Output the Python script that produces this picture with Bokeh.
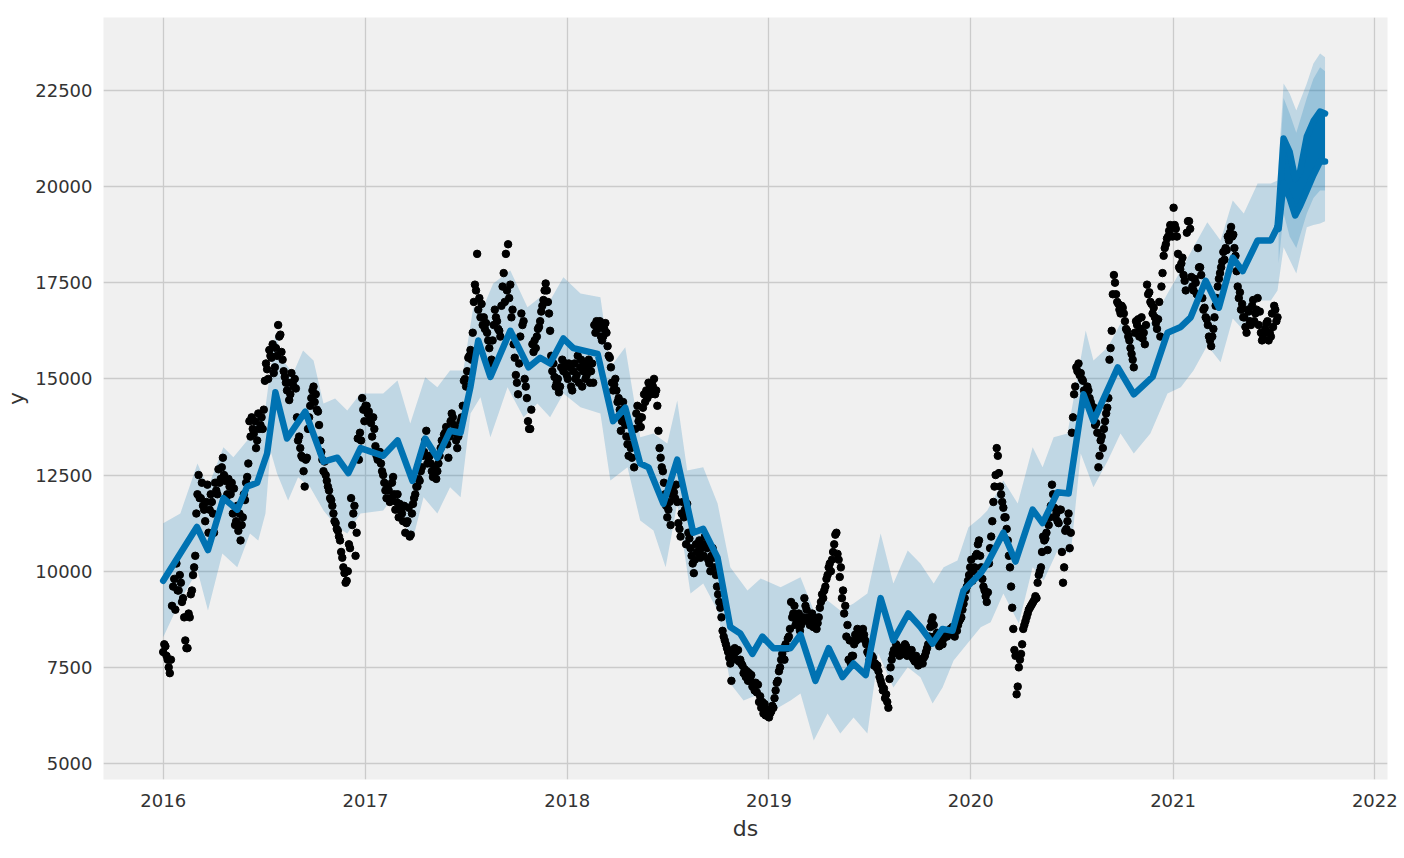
import pandas as pd
from bokeh.plotting import figure
from bokeh.models import FixedTicker, DatetimeTickFormatter, Range1d
from bokeh.embed import file_html
from bokeh.resources import INLINE

# ---------------- data ----------------
# observed points, one every 4 days from 2016-01-01
obs_start = "2016-01-01"
obs_y = [
    # 2016
    7900, 8050, 7700, 7350, 9100, 9800, 10200, 9500, 9700, 9300,
    8200, 8000, 8800, 9500, 10100, 11500, 12500, 11900, 11700, 11300,
    12250, 11600, 11800, 11000, 12100, 12650, 12400, 12950, 12350, 12000,
    12200, 12300, 12150, 11300, 11050, 10800, 11400, 11850, 12450, 13900,
    14000, 13580, 13200, 14100, 13800, 13700, 14950, 15250, 15750, 15550,
    15150, 15800, 16400, 16150, 15500, 15050, 14700, 14450, 15150, 14800,
    14750, 13400, 13200, 12950, 12200, 12950, 14000, 14500, 14800, 14600,
    14150, 13400, 12900, 12850, 12350, 12100, 11850, 11500, 11250, 11050,
    10800, 10350, 9950, 9750, 10700, 11900, 11500, 10400, 13450, 13600,
    14500, 13900,
    # 2017
    14300, 14150, 13850, 14000, 13250, 12900, 13100, 12600, 12300, 11900,
    12100, 11900, 12450, 11600, 12000, 11750, 11500, 11700, 11250, 11650,
    10950, 11750, 12000, 12200, 12350, 12700, 13100, 13650, 12950, 12800,
    12450, 12700, 12600, 13000, 13400, 13550, 13750, 12950, 13900, 14000,
    13600, 13200, 13700, 14000, 14950, 14800, 15550, 15750, 16200, 17450,
    18250, 17100, 16950, 16600, 16450, 16000, 15400, 16000, 16800, 16500,
    16250, 16900, 17750, 18250, 18500, 17450, 16800, 15550, 14900, 15400,
    16700, 16500, 14800, 13900, 13700, 15900, 16000, 16100, 16350, 16750,
    17050, 17480, 17000, 16250, 15200, 15050, 14900, 14650, 15300, 15200,
    15400,
    # 2018
    15000, 15300, 14700, 15400, 15100, 14900, 15500, 15200, 15000, 15300,
    14900, 15400, 16400, 16500, 16350, 16100, 16100, 16450, 15850, 15550,
    14900, 14850, 14700, 14500, 13650, 14400, 13800, 13300, 13500, 12950,
    12700, 14100, 13900, 13750, 14250, 14400, 14500, 14750, 14900, 15000,
    14700, 13650, 12950, 12600, 12000, 11400, 11800, 12000, 12050, 12250,
    11250, 10900, 11800, 11600, 11750, 10850, 10400, 9950, 10700, 10500,
    10350, 10700, 10900, 10600, 10200, 10400, 10350, 9900, 9400, 9050,
    8450, 8200, 8000, 7750, 7150, 7850, 7900, 7950, 7700, 7550,
    7450, 7400, 7350, 7300, 7000, 7100, 7050, 6750, 6600, 6550,
    6400,
    # 2019
    6200, 6350, 6450, 6900, 7150, 7500, 7850, 7700, 8000, 8300,
    9200, 8900, 8600, 8750, 8450, 8700, 9300, 9000, 8800, 8700,
    8550, 8750, 8650, 9050, 9400, 9500, 9800, 10100, 10000, 10500,
    10950, 10450, 9850, 9300, 8900, 8300, 7700, 7600, 7800, 8350,
    8500, 8250, 8450, 8350, 8100, 7850, 7650, 7750, 7600, 7550,
    7250, 7050, 6950, 6800, 6450, 7500, 7850, 7900, 8050, 7800,
    8000, 7900, 8050, 7950, 7850, 7750, 7650, 7700, 7600, 7650,
    7750, 7900, 8100, 8550, 8800, 8300, 8400, 8050, 8150, 8250,
    8400, 8350, 8500, 8550, 8300, 8450, 8700, 8800, 9150, 9500,
    9750, 10100,
    # 2020
    9750, 10100, 10450, 10800, 10100, 9600, 9350, 9450, 10600, 11300,
    12200, 13200, 12550, 12000, 11650, 11400, 10800, 10100, 9050, 7950,
    6800, 7500, 7850, 8500, 8700, 8900, 9050, 9150, 9250, 9300,
    9900, 10100, 10900, 10850, 10550, 11400, 12250, 11650, 11500, 11250,
    11600, 9700, 11050, 11300, 10600, 13600, 14600, 15300, 15400, 15150,
    14950, 14550, 14800, 14500, 14300, 14250, 13850, 12700, 13400, 13200,
    13900, 14250, 15500, 16250, 17700, 17200, 16950, 16700, 16850, 16500,
    16250, 16000, 15650, 15300, 16500, 16550, 16300, 16050, 15900, 17450,
    17250, 16950, 16850, 16450, 16550, 16100, 17750, 18400, 18650, 18850,
    18950,
    # 2021
    19450, 18900, 18250, 17850, 18150, 17550, 18800, 19100, 17650, 17300,
    17500, 18400, 17900, 17100, 16850, 16550, 16100, 15850, 16300, 16900,
    17400, 17750, 18050, 18100, 18350, 18600, 18950, 18750, 18200, 17400,
    17250, 16950, 16600, 16200, 16750, 16400, 17050, 16700, 17100, 16750,
    16000, 16200, 16450, 16000, 16100, 16350, 16800, 16600,
]

# second set of observed points, also every 4 days, from 2016-01-03
obs2_start = "2016-01-03"
obs2_y = [
    # 2016
    8100, 7800, 7500, 7700,
    9600, 9000, 9500, 9900, 9200, 8800, 8000, 8900, 9400, 9900, 10400,
    12000, 11900, 12300, 11600, 11800, 11000, 12000, 11500, 12300, 12000,
    12300, 12700, 12500, 11900, 12400, 12000, 11500, 11200, 11700, 11500, 11200, 12000, 12300, 12800,
    13500, 13700, 13900, 13400, 13700, 14000, 14200,
    15400, 15000, 15600, 15900, 15300, 15600, 16100, 15700, 15200, 14900,
    14900, 14600, 14900, 15000, 14000, 13500, 13000, 12600, 12900,
    13700, 14300, 14700, 14400, 14200, 13800, 13100, 12600, 12500, 12200, 11900,
    11700, 11300, 11100, 10900, 10500, 10100, 9700, 10000, 10600, 11200, 11700, 11000, 12900, 13400, 14200, 14300,
    # 2017
    14100, 14000, 13500, 13700, 13000, 13100, 12800, 12500,
    12100, 12200, 11800, 12300, 12000, 11800, 11400, 11600, 11300, 11000, 11300, 10900, 11500, 11900,
    12200, 12400, 12600, 13000, 13400, 12800, 13000, 12600, 12500, 12400, 12800, 13200, 13300, 13600,
    13300, 13500, 14100, 13800, 13400, 13500, 13900, 14300, 15000, 15200, 15600, 15500,
    17000, 17300, 16800, 16600, 16400, 16300, 16200, 15800, 15500, 16400, 16600, 16300, 16100,
    17400, 17000, 17300, 17100, 16600, 15900, 15100, 14600, 16100, 16400, 15000, 14500, 13700,
    14200, 15700, 15800, 16300, 16500, 16900, 17300, 17300, 16700, 15600, 15400, 14800, 15000, 14800, 15500, 15300, 15100,
    # 2018
    15400, 14800, 15200, 15000, 15600, 15300, 14800, 15400, 15100, 15500, 15200, 14900,
    16200, 16300, 16500, 16000, 16300, 16200, 15600, 15300,
    14700, 15000, 14400, 14200, 13900, 14000, 13500, 13000, 13200, 13300, 13700, 14300, 14000,
    14000, 14600, 14700, 14900, 14600, 14800, 14600, 14300, 13200, 12700, 12300,
    11700, 11600, 11200, 12200, 11900, 11800, 11100, 11500, 11400, 10700, 11000, 10600, 10200,
    10300, 10500, 10800, 10600, 10400, 10700, 10300, 10000, 10600, 10100, 9600, 9200, 8800,
    8300, 8100, 7900, 7600, 7800, 8000, 7700, 7650, 7600, 7350, 7250, 7150, 7200, 7000, 6900, 6850,
    6600, 6450, 6300, 6250, 6350,
    # 2019
    6300, 6500, 6700, 7100, 7400, 7700, 8000, 8100, 8250, 8500,
    8800, 9100, 8700, 8900, 8600, 8800, 9100, 8700, 8600, 8900,
    8700, 8500, 8800, 9200, 9300, 9600, 9900, 10200, 10300, 10700,
    11000, 10300, 10100, 9500, 9100, 8600, 8200, 7800, 8100, 8200, 8400, 8300, 8500, 8200, 7900,
    7700, 7800, 7550, 7500, 7400, 7150, 6900, 6700, 6600, 7200,
    7700, 7950, 8100, 7900, 7950, 7850, 8100, 7800, 7900, 7950, 7700, 7800, 7550, 7700, 7600, 7800, 8000, 8300,
    8700, 8600, 8200, 8300, 8200, 8100, 8350, 8300, 8450, 8400, 8350, 8500, 8600, 8750, 9000, 9300, 9600, 9900, 10300,
    # 2020
    10000, 10400, 10700, 10400, 9800, 9500, 9200, 10200, 10900, 11800, 12500, 13000, 12200,
    11800, 11400, 11100, 10400, 9600, 8500, 7800, 7000, 7700, 8100, 8600, 8800, 9000, 9100, 9200, 9350, 9700,
    10000, 10500, 10800, 11000, 11200, 11700, 12000, 11400, 11300, 11600, 10500, 10100, 11100, 11500, 11000,
    14000, 14800, 15200, 15100, 15000, 14700, 14400, 14700, 14400, 14100, 13800, 13600, 13000, 13500, 13700, 14100, 14500,
    15800, 17200, 17500, 17000, 16800, 16900, 16700, 16300, 16100, 15800, 15500, 16200, 16400, 16100, 16600, 16200, 16400,
    17200, 17000, 16700, 16600, 16300, 17000, 17400, 18200, 18500, 18700, 19000, 18700,
    # 2021
    19000, 18700, 17900, 18000, 17700, 17300, 19100, 18900, 17400, 17600, 17200, 17900, 17700, 16800, 16600, 16400, 16000, 16100,
    16600, 17100, 17600, 17900, 18300, 18400, 18700, 18800, 18700, 18400, 17800,
    17100, 16800, 16600, 16350, 16800, 16500, 16900, 16500, 16800, 16400, 16200, 16100, 16300, 16500, 16200, 16700, 16900, 16500,
]

# fitted line (history)
yhat_ds = [
    "2016-01-01", "2016-03-02", "2016-03-22", "2016-04-19", "2016-05-14", "2016-06-01",
    "2016-06-19", "2016-07-07", "2016-07-22", "2016-08-12", "2016-09-14", "2016-10-17",
    "2016-11-11", "2016-12-01", "2016-12-23", "2017-02-02", "2017-02-28", "2017-03-27",
    "2017-04-19", "2017-05-11", "2017-06-03", "2017-06-22", "2017-07-10", "2017-07-24",
    "2017-08-15", "2017-09-20", "2017-10-23", "2017-11-13", "2017-12-01", "2017-12-25",
    "2018-01-12", "2018-02-25", "2018-03-25", "2018-04-16", "2018-05-13", "2018-05-28",
    "2018-06-24", "2018-07-19", "2018-08-17", "2018-09-04", "2018-09-30", "2018-10-23",
    "2018-11-10", "2018-12-02", "2018-12-20", "2019-01-09", "2019-02-09", "2019-02-27",
    "2019-03-26", "2019-04-19", "2019-05-14", "2019-06-03", "2019-06-25", "2019-07-22",
    "2019-08-14", "2019-09-10", "2019-10-02", "2019-10-24", "2019-11-11", "2019-11-29",
    "2019-12-19", "2020-01-19", "2020-01-31", "2020-02-29", "2020-03-22", "2020-04-22",
    "2020-05-10", "2020-06-06", "2020-06-26", "2020-07-23", "2020-08-10", "2020-09-23",
    "2020-10-22", "2020-11-25", "2020-12-22", "2021-01-15", "2021-02-02", "2021-03-01",
    "2021-03-25", "2021-04-19", "2021-05-07", "2021-06-03", "2021-06-27", "2021-07-09",
]
yhat = [
    9750, 11150, 10550, 11900, 11600, 12200,
    12300, 13060, 14650, 13450, 14150, 12850,
    12950, 12550, 13200, 13000, 13400, 12350,
    13450, 12950, 13650, 13600, 14800, 16000,
    15050, 16250, 15300, 15550, 15400, 16050,
    15800, 15650, 13900, 14250, 12800, 12700,
    11750, 12900, 11000, 11100, 10350, 8550,
    8380, 7850, 8300, 8000, 8000, 8350,
    7150, 8000, 7250, 7600, 7300, 9300,
    8200, 8900, 8550, 8120, 8500, 8450,
    9500, 9950, 10200, 11000, 10250, 11600,
    11250, 12050, 12020, 14600, 13900, 15300,
    14600, 15050, 16200, 16350, 16600, 17550,
    16850, 18150, 17800, 18600, 18600, 18950,
]

# forecast part of the fitted line (it swings between these two edges)
fc_ds = ["2021-07-09", "2021-07-11", "2021-07-20", "2021-07-31", "2021-08-10",
         "2021-08-19", "2021-08-31", "2021-09-12", "2021-09-24", "2021-10-03"]
fc_hi = [18950, 19300, 21250, 20900, 20200, 20400, 21300, 21700, 21950, 21900]
fc_lo = [18950, 18900, 20100, 19700, 19250, 19500, 19900, 20300, 20650, 20650]

# uncertainty interval, upper edge
up_ds = [
    "2016-01-01", "2016-02-01", "2016-03-03", "2016-03-22", "2016-04-19", "2016-05-07",
    "2016-06-01", "2016-06-19", "2016-07-04", "2016-07-22", "2016-08-05", "2016-08-23",
    "2016-09-10", "2016-09-29", "2016-10-17", "2016-11-07", "2016-11-29", "2016-12-23",
    "2017-02-02", "2017-02-28", "2017-03-23", "2017-04-19", "2017-05-11", "2017-06-03",
    "2017-06-27", "2017-07-15", "2017-08-02", "2017-08-20", "2017-09-20", "2017-10-21",
    "2017-11-13", "2017-12-01", "2017-12-25", "2018-01-25", "2018-03-02", "2018-03-20",
    "2018-04-16", "2018-05-13", "2018-06-06", "2018-07-01", "2018-07-19", "2018-08-06",
    "2018-09-04", "2018-09-30", "2018-10-23", "2018-11-23", "2018-12-17", "2019-01-22",
    "2019-02-27", "2019-03-23", "2019-04-17", "2019-05-10", "2019-06-03", "2019-06-28",
    "2019-07-22", "2019-08-14", "2019-09-09", "2019-10-02", "2019-10-26", "2019-11-13",
    "2019-12-08", "2019-12-28", "2020-01-19", "2020-01-31", "2020-02-29", "2020-03-26",
    "2020-04-22", "2020-05-10", "2020-05-30", "2020-06-24", "2020-07-27", "2020-08-10",
    "2020-09-05", "2020-09-28", "2020-10-29", "2020-11-25", "2020-12-22", "2021-01-15",
    "2021-02-07", "2021-03-04", "2021-03-28", "2021-04-19", "2021-05-09", "2021-06-03",
    "2021-06-27", "2021-07-09", "2021-07-20", "2021-07-31", "2021-08-12", "2021-08-31",
    "2021-09-12", "2021-09-24", "2021-10-03",
]
up_y = [
    11250, 11500, 12800, 12180, 13220, 12960,
    13400, 14000, 14260, 16180, 15480, 15140,
    15740, 15480, 14360, 14490, 14180, 14620,
    14620, 14960, 13840, 15040, 14780, 15220,
    15220, 16860, 16860, 17480, 17820, 16860,
    17120, 17040, 17640, 17220, 17120, 15300,
    15820, 13480, 13580, 13320, 14440, 12620,
    12700, 11760, 10100, 9500, 9810, 9580,
    9840, 8980, 9240, 8980, 9160, 9420,
    10980, 9680, 10540, 10200, 9680, 10100,
    10280, 11140, 11400, 11580, 12360, 11760,
    13220, 12700, 13480, 13580, 16260, 15480,
    15820, 16440, 16080, 16520, 17220, 17820,
    18420, 19070, 18600, 19640, 19300, 20080,
    20080, 20160, 22680, 22420, 21980, 22680,
    23200, 23460, 23360,
]

# uncertainty interval, lower edge
lo_ds = [
    "2016-01-01", "2016-02-01", "2016-03-03", "2016-03-22", "2016-04-17", "2016-05-14",
    "2016-06-06", "2016-06-21", "2016-07-04", "2016-07-13", "2016-07-25", "2016-08-14",
    "2016-09-01", "2016-09-23", "2016-10-17", "2016-11-11", "2016-11-29", "2016-12-23",
    "2017-02-02", "2017-02-20", "2017-03-27", "2017-04-16", "2017-05-11", "2017-06-03",
    "2017-06-22", "2017-07-10", "2017-07-28", "2017-08-15", "2017-09-15", "2017-10-14",
    "2017-11-08", "2017-12-01", "2017-12-25", "2018-01-25", "2018-03-02", "2018-03-20",
    "2018-04-20", "2018-05-13", "2018-06-06", "2018-06-28", "2018-07-19", "2018-08-12",
    "2018-09-04", "2018-09-30", "2018-10-23", "2018-11-16", "2018-12-17", "2019-01-09",
    "2019-02-09", "2019-02-27", "2019-03-23", "2019-04-17", "2019-05-10", "2019-06-03",
    "2019-06-28", "2019-07-18", "2019-08-14", "2019-09-09", "2019-10-02", "2019-10-24",
    "2019-11-11", "2019-12-01", "2019-12-26", "2020-01-19", "2020-02-06", "2020-02-29",
    "2020-03-28", "2020-04-22", "2020-05-12", "2020-06-06", "2020-06-30", "2020-07-18",
    "2020-08-10", "2020-09-05", "2020-09-28", "2020-10-22", "2020-11-21", "2020-12-22",
    "2021-01-15", "2021-02-07", "2021-03-04", "2021-03-28", "2021-04-19", "2021-05-09",
    "2021-06-03", "2021-06-27", "2021-07-09", "2021-07-20", "2021-08-12", "2021-08-31",
    "2021-09-12", "2021-09-24", "2021-10-03",
]
lo_y = [
    8280, 9240, 10020, 8980, 10460, 10100,
    10980, 10800, 11500, 13140, 12540, 11840,
    12440, 12180, 11580, 11140, 10980, 11500,
    11580, 11920, 10800, 11920, 11500, 12180,
    11920, 14100, 14520, 13480, 14780, 14000,
    14360, 14000, 14620, 14260, 14100, 12360,
    12700, 11320, 11060, 10100, 11760, 9420,
    9680, 8980, 7080, 6640, 6820, 6380,
    6640, 6820, 5600, 6300, 5780, 6200,
    5780, 7860, 6980, 7500, 7240, 6560,
    6980, 7680, 8120, 8540, 8670, 9420,
    8640, 10100, 9760, 10540, 10460, 13060,
    12180, 12880, 13580, 13060, 13580, 14620,
    14780, 15220, 15870, 15430, 16570, 16260,
    17040, 17040, 17300, 18420, 17740, 18940,
    19000, 19040, 19100,
]

# denser inner part of the forecast interval
fin_ds = ["2021-07-11", "2021-07-20", "2021-07-31", "2021-08-12",
          "2021-08-31", "2021-09-12", "2021-09-24", "2021-10-03"]
fin_up = [20300, 22300, 21900, 21400, 22300, 22800, 23100, 23000]
fin_lo = [18000, 19300, 18700, 18400, 19300, 19700, 19900, 19900]

x_tick_years = [2016, 2017, 2018, 2019, 2020, 2021, 2022]
y_ticks = [5000, 7500, 10000, 12500, 15000, 17500, 20000, 22500]

# ---------------- plot ----------------
BLUE = "#0072B2"
FONT = "DejaVu Sans"

obs_ds = pd.date_range(obs_start, periods=len(obs_y), freq="4D")
obs2_ds = pd.date_range(obs2_start, periods=len(obs2_y), freq="4D")
to_dt = lambda seq: pd.to_datetime(pd.Series(seq))

p = figure(
    width=1404, height=858,
    x_axis_type="datetime",
    x_range=Range1d(pd.Timestamp("2015-09-15"), pd.Timestamp("2022-01-24")),
    y_range=Range1d(4585, 24395),
    output_backend="svg", toolbar_location=None,
    min_border_left=103, min_border_right=17, min_border_top=17, min_border_bottom=79,
    background_fill_color="#f0f0f0", border_fill_color="white",
    outline_line_color=None,
)

# uncertainty band
band_x = list(to_dt(up_ds)) + list(to_dt(lo_ds))[::-1]
band_y = list(up_y) + list(lo_y)[::-1]
p.patch(band_x, band_y, fill_color=BLUE, fill_alpha=0.2, line_color=None)
p.varea(x=to_dt(fin_ds), y1=fin_lo, y2=fin_up, fill_color=BLUE, fill_alpha=0.2)

# observations
p.scatter(obs_ds, obs_y, size=7.5, fill_color="black", line_color="black")
p.scatter(obs2_ds, obs2_y, size=7.5, fill_color="black", line_color="black")

# fitted line
p.line(to_dt(yhat_ds), yhat, line_color=BLUE, line_width=6.5,
       line_join="round", line_cap="round")
p.varea(x=to_dt(fc_ds), y1=fc_lo, y2=fc_hi, fill_color=BLUE)
p.line(to_dt(fc_ds), fc_hi, line_color=BLUE, line_width=6.5, line_join="round", line_cap="round")
p.line(to_dt(fc_ds), fc_lo, line_color=BLUE, line_width=6.5, line_join="round", line_cap="round")

# axes
p.xaxis.ticker = FixedTicker(ticks=[pd.Timestamp(f"{y}-01-01").value / 1e6 for y in x_tick_years])
p.xaxis.formatter = DatetimeTickFormatter(years="%Y", months="%Y", days="%Y", hours="%Y")
p.yaxis.ticker = FixedTicker(ticks=y_ticks)
p.xaxis.axis_label = "ds"
p.yaxis.axis_label = "y"

for ax in (p.xaxis, p.yaxis):
    ax.axis_line_color = None
    ax.major_tick_line_color = None
    ax.minor_tick_line_color = None
    ax.major_label_text_font = FONT
    ax.major_label_text_font_size = "18px"
    ax.major_label_text_color = "#333333"
    ax.axis_label_text_font = FONT
    ax.axis_label_text_font_size = "22px"
    ax.axis_label_text_font_style = "normal"
    ax.axis_label_text_color = "#333333"

p.xaxis.major_label_standoff = 8
p.xaxis.axis_label_standoff = 6
p.yaxis.major_label_standoff = 5
p.yaxis.axis_label_standoff = 3

p.grid.grid_line_color = "#cbcbcb"
p.grid.grid_line_width = 1.3
p.xgrid.ticker = p.xaxis.ticker
p.ygrid.ticker = p.yaxis.ticker

open("out.html", "w").write(file_html(p, INLINE))
